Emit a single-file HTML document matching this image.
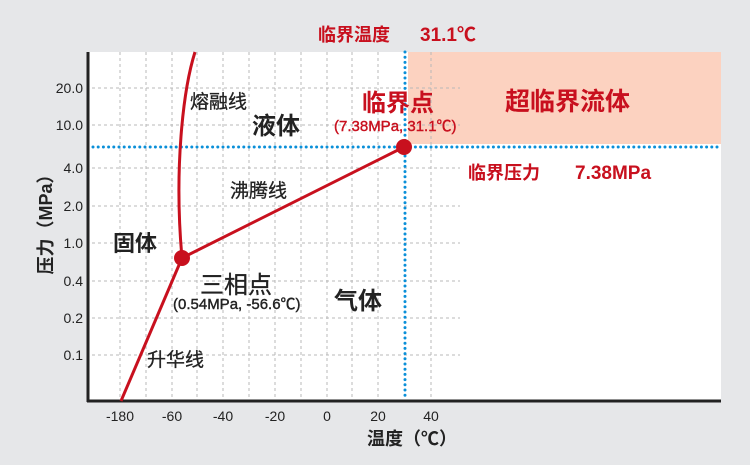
<!DOCTYPE html>
<html><head><meta charset="utf-8"><style>
body{margin:0;background:#e6e7e9;}
svg{display:block;font-family:"Liberation Sans","Noto Sans CJK SC",sans-serif;}
</style></head><body>
<svg width="750" height="465" viewBox="0 0 750 465" xmlns="http://www.w3.org/2000/svg">
<rect width="750" height="465" fill="#e6e7e9"/>
<rect x="88" y="52" width="633" height="349" fill="#fff"/>
<rect x="408" y="52" width="313" height="92" fill="#fcd2c0"/>
<g stroke="#b8b8b8" stroke-width="1" stroke-dasharray="3,3">
<line x1="120" y1="52" x2="120" y2="398"/><line x1="146" y1="52" x2="146" y2="398"/>
<line x1="172" y1="52" x2="172" y2="398"/><line x1="197" y1="52" x2="197" y2="398"/>
<line x1="223" y1="52" x2="223" y2="398"/><line x1="249" y1="52" x2="249" y2="398"/>
<line x1="275" y1="52" x2="275" y2="398"/><line x1="301" y1="52" x2="301" y2="398"/>
<line x1="327" y1="52" x2="327" y2="398"/><line x1="352" y1="52" x2="352" y2="398"/>
<line x1="378" y1="52" x2="378" y2="398"/><line x1="431" y1="52" x2="431" y2="398"/>
<line x1="92" y1="88" x2="460" y2="88"/><line x1="92" y1="125" x2="460" y2="125"/>
<line x1="92" y1="168" x2="460" y2="168"/><line x1="92" y1="206" x2="460" y2="206"/>
<line x1="92" y1="243" x2="460" y2="243"/><line x1="92" y1="281" x2="460" y2="281"/>
<line x1="92" y1="318" x2="460" y2="318"/><line x1="92" y1="355" x2="460" y2="355"/>
</g>
<g stroke="#0a8fd8" stroke-width="3" stroke-linecap="round" stroke-dasharray="0,5.2">
<line x1="93" y1="147" x2="722" y2="147"/>
<line x1="405" y1="52" x2="405" y2="397"/>
</g>
<line x1="88" y1="52" x2="88" y2="402" stroke="#222" stroke-width="3"/>
<line x1="87" y1="401" x2="721" y2="401" stroke="#222" stroke-width="3"/>
<g stroke="#c8101e" stroke-width="3" fill="none">
<path d="M195,52 C183,90 174,170 182,258"/>
<line x1="182" y1="258" x2="404" y2="147"/>
<line x1="182" y1="258" x2="121" y2="401"/>
</g>
<circle cx="182" cy="258" r="8" fill="#c8101e"/>
<circle cx="404" cy="147" r="8" fill="#c8101e"/>
<g font-size="14" fill="#222" text-anchor="end">
<text x="83" y="93">20.0</text><text x="83" y="130">10.0</text>
<text x="83" y="173">4.0</text><text x="83" y="211">2.0</text>
<text x="83" y="248">1.0</text><text x="83" y="286">0.4</text>
<text x="83" y="323">0.2</text><text x="83" y="360">0.1</text>
</g>
<g font-size="14" fill="#222" text-anchor="middle">
<text x="120" y="421">-180</text><text x="172" y="421">-60</text>
<text x="223" y="421">-40</text><text x="275" y="421">-20</text>
<text x="327" y="421">0</text><text x="378" y="421">20</text><text x="431" y="421">40</text>
</g>
<text x="412" y="445" font-size="18" font-weight="bold" fill="#222" text-anchor="middle">温度（℃）</text>
<text transform="translate(52,220) rotate(-90)" font-size="18" font-weight="bold" fill="#222" text-anchor="middle">压力（MPa）</text>
<g fill="#c8101e" font-weight="bold">
<text x="318" y="41" font-size="18">临界温度</text>
<text x="420" y="41" font-size="19">31.1℃</text>
<text x="362" y="111" font-size="24">临界点</text>
<text x="334" y="131" font-size="15" font-weight="normal" stroke="#c8101e" stroke-width="0.4">(7.38MPa, 31.1℃)</text>
<text x="505" y="110" font-size="25">超临界流体</text>
<text x="468" y="179" font-size="18">临界压力</text>
<text x="575" y="179" font-size="19">7.38MPa</text>
</g>
<g fill="#222">
<text x="190" y="108" font-size="19" stroke="#222" stroke-width="0.3">熔融线</text>
<text x="252" y="134" font-size="24" font-weight="bold">液体</text>
<text x="230" y="197" font-size="19" stroke="#222" stroke-width="0.3">沸腾线</text>
<text x="113" y="251" font-size="22" font-weight="bold">固体</text>
<text x="200" y="293" font-size="24" stroke="#222" stroke-width="0.3">三相点</text>
<text x="173" y="309" font-size="15" stroke="#222" stroke-width="0.4">(0.54MPa, -56.6℃)</text>
<text x="334" y="309" font-size="24" font-weight="bold">气体</text>
<text x="147" y="366" font-size="19" stroke="#222" stroke-width="0.3">升华线</text>
</g>
</svg>
</body></html>
